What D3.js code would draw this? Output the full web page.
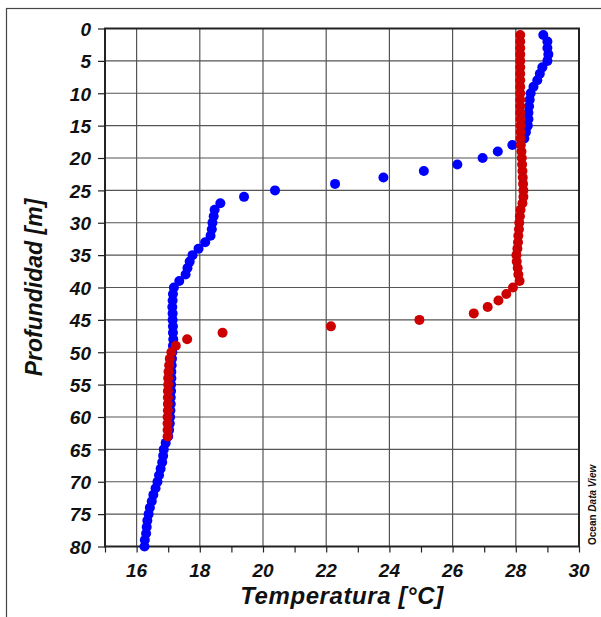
<!DOCTYPE html>
<html lang="es">
	<head>
		<meta charset="utf-8">
		<title>Perfil de temperatura</title>
		<script type="text/javascript" src="https://d3js.org/d3.v7.min.js"></script>
		<style type="text/css">
			body {
				margin: 0;
				background: #fff;
			}
			text {
				font-family: Arial, "Liberation Sans", sans-serif;
			}
		</style>
	</head>
	<body>
		<script type="text/javascript">

			//Width and height
			var w = 601;
			var h = 617;
			var margin = {top: 28.5, right: 21, bottom: 70.5, left: 105};

			//Blue profile: depth [m] and temperature [°C]
			var depthBlue = [1, 2, 3, 4, 5, 6, 7, 8, 9, 10, 11, 12, 13, 14, 15, 16, 17, 18, 19, 20,
							 21, 22, 23, 24, 25, 26, 27, 28, 29, 30, 31, 32, 33, 34, 35, 36, 37, 38, 39, 40,
							 41, 42, 43, 44, 45, 46, 47, 48, 49, 50, 51, 52, 53, 54, 55, 56, 57, 58, 59, 60,
							 61, 62, 63, 64, 65, 66, 67, 68, 69, 70, 71, 72, 73, 74, 75, 76, 77, 78, 79, 80];
			var tempBlue = [28.87, 29.00, 29.00, 29.03, 29.00, 28.84, 28.76, 28.68, 28.56, 28.47,
							28.44, 28.42, 28.40, 28.40, 28.38, 28.32, 28.27, 27.89, 27.43, 26.95,
							26.15, 25.09, 23.81, 22.28, 20.38, 19.40, 18.65, 18.47, 18.44, 18.40,
							18.38, 18.34, 18.17, 17.96, 17.77, 17.68, 17.61, 17.55, 17.35, 17.18,
							17.15, 17.14, 17.13, 17.14, 17.14, 17.15, 17.15, 17.16, 17.15, 17.13,
							17.12, 17.11, 17.10, 17.10, 17.09, 17.09, 17.08, 17.08, 17.07, 17.06,
							17.05, 17.03, 17.00, 16.92, 16.86, 16.84, 16.81, 16.76, 16.71, 16.66,
							16.60, 16.53, 16.48, 16.42, 16.38, 16.34, 16.32, 16.30, 16.26, 16.25];

			//Red profile
			var depthRed = [1, 2, 3, 4, 5, 6, 7, 8, 9, 10, 11, 12, 13, 14, 15, 16, 17, 18, 19, 20,
							21, 22, 23, 24, 25, 26, 27, 28, 29, 30, 31, 32, 33, 34, 35, 36, 37, 38, 39, 40,
							41, 42, 43, 44, 45, 46, 47, 48, 49, 50, 51, 52, 53, 54, 55, 56, 57, 58, 59, 60,
							61, 62, 63];
			var tempRed = [28.14, 28.14, 28.14, 28.14, 28.14, 28.14, 28.14, 28.14, 28.14, 28.14,
						   28.14, 28.14, 28.14, 28.15, 28.15, 28.15, 28.15, 28.16, 28.18, 28.19,
						   28.20, 28.21, 28.22, 28.23, 28.24, 28.24, 28.21, 28.15, 28.13, 28.11,
						   28.10, 28.08, 28.07, 28.05, 28.02, 28.03, 28.06, 28.08, 28.12, 27.91,
						   27.70, 27.45, 27.11, 26.67, 24.95, 22.15, 18.72, 17.60, 17.24, 17.10,
						   17.05, 17.03, 17.01, 17.00, 17.00, 16.99, 16.99, 16.99, 16.99, 16.98,
						   16.98, 16.98, 16.98];

			//Tick values
			var xTickLabels = [16, 18, 20, 22, 24, 26, 28, 30];
			var xMinorTicks = [15, 16, 17, 18, 19, 20, 21, 22, 23, 24, 25, 26, 27, 28, 29, 30];
			var yTickLabels = [0, 5, 10, 15, 20, 25, 30, 35, 40, 45, 50, 55, 60, 65, 70, 75, 80];

			//Scales
			var xScale = d3.scaleLinear()
						   .domain([15, 30])
						   .range([margin.left, w - margin.right - 1]);
			var yScale = d3.scaleLinear()
						   .domain([0, 80])
						   .range([margin.top, h - margin.bottom]);

			var svg = d3.select("body")
						.append("svg")
						.attr("width", w)
						.attr("height", h);

			//Outer frame (only top and left show)
			svg.append("rect")
			   .attr("x", 6.5)
			   .attr("y", 8.5)
			   .attr("width", 620)
			   .attr("height", 640)
			   .attr("fill", "none")
			   .attr("stroke", "#444")
			   .attr("stroke-width", 1.2);

			//Grid
			svg.append("g")
			   .selectAll("line")
			   .data(xTickLabels.slice(0, -1))
			   .enter()
			   .append("line")
			   .attr("x1", function(d) { return xScale(d); })
			   .attr("x2", function(d) { return xScale(d); })
			   .attr("y1", yScale(0))
			   .attr("y2", yScale(80))
			   .attr("stroke", "#555")
			   .attr("stroke-width", 1.2);

			svg.append("g")
			   .selectAll("line")
			   .data(yTickLabels.slice(1, -1))
			   .enter()
			   .append("line")
			   .attr("x1", xScale(15))
			   .attr("x2", xScale(30))
			   .attr("y1", function(d) { return yScale(d); })
			   .attr("y2", function(d) { return yScale(d); })
			   .attr("stroke", "#555")
			   .attr("stroke-width", 1.2);

			//Axes
			var xAxis = d3.axisBottom(xScale)
						  .tickValues(xMinorTicks)
						  .tickSize(6)
						  .tickFormat("");
			svg.append("g")
			   .attr("transform", "translate(0," + yScale(80) + ")")
			   .call(xAxis)
			   .call(function(g) { g.select(".domain").remove(); })
			   .selectAll("line")
			   .attr("stroke", "#222")
			   .attr("stroke-width", 1.2);

			var yAxis = d3.axisLeft(yScale)
						  .tickValues(yTickLabels)
						  .tickSize(7)
						  .tickFormat(d3.format("d"));
			var gy = svg.append("g")
						.attr("transform", "translate(" + xScale(15) + ",0)")
						.call(yAxis)
						.call(function(g) { g.select(".domain").remove(); });
			gy.selectAll("line")
			  .attr("stroke", "#222")
			  .attr("stroke-width", 1.2);
			gy.selectAll("text")
			  .attr("x", -14)
			  .attr("dy", "0.36em")
			  .attr("font-size", "19px")
			  .attr("font-weight", "bold")
			  .attr("font-style", "italic")
			  .attr("font-family", "Arial, 'Liberation Sans', sans-serif")
			  .attr("fill", "#111");

			//X tick labels
			svg.append("g")
			   .selectAll("text")
			   .data(xTickLabels)
			   .enter()
			   .append("text")
			   .text(function(d) { return d; })
			   .attr("x", function(d) { return xScale(d); })
			   .attr("y", 577)
			   .attr("text-anchor", "middle")
			   .attr("font-size", "19px")
			   .attr("font-weight", "bold")
			   .attr("font-style", "italic")
			   .attr("fill", "#111");

			//Plot border
			svg.append("rect")
			   .attr("x", xScale(15))
			   .attr("y", yScale(0))
			   .attr("width", xScale(30) - xScale(15))
			   .attr("height", yScale(80) - yScale(0))
			   .attr("fill", "none")
			   .attr("stroke", "#222")
			   .attr("stroke-width", 2);

			//Points
			svg.append("g")
			   .selectAll("circle")
			   .data(tempBlue)
			   .enter()
			   .append("circle")
			   .attr("cx", function(d) { return xScale(d); })
			   .attr("cy", function(d, i) { return yScale(depthBlue[i]); })
			   .attr("r", 5)
			   .attr("fill", "#0000ff");

			svg.append("g")
			   .selectAll("circle")
			   .data(tempRed)
			   .enter()
			   .append("circle")
			   .attr("cx", function(d) { return xScale(d); })
			   .attr("cy", function(d, i) { return yScale(depthRed[i]); })
			   .attr("r", 5)
			   .attr("fill", "#cc0000");

			//Axis titles
			svg.append("text")
			   .text("Temperatura [°C]")
			   .attr("x", (xScale(15) + xScale(30)) / 2)
			   .attr("y", 604)
			   .attr("text-anchor", "middle")
			   .attr("font-size", "24px")
			   .attr("letter-spacing", "0.6px")
			   .attr("font-weight", "bold")
			   .attr("font-style", "italic")
			   .attr("fill", "#111");

			svg.append("text")
			   .text("Profundidad [m]")
			   .attr("transform", "translate(42," + (yScale(0) + yScale(80)) / 2 + ") rotate(-90)")
			   .attr("text-anchor", "middle")
			   .attr("font-size", "23px")
			   .attr("font-weight", "bold")
			   .attr("font-style", "italic")
			   .attr("fill", "#111");

			//Watermark
			var odv = svg.append("text")
						 .attr("transform", "translate(596,545) rotate(-90)")
						 .attr("font-size", "10px")
						 .attr("font-weight", "bold")
						 .attr("fill", "#111");
			odv.append("tspan").text("Ocean ");
			odv.append("tspan").attr("font-style", "italic").text("Data View");

		</script>
	</body>
</html>
